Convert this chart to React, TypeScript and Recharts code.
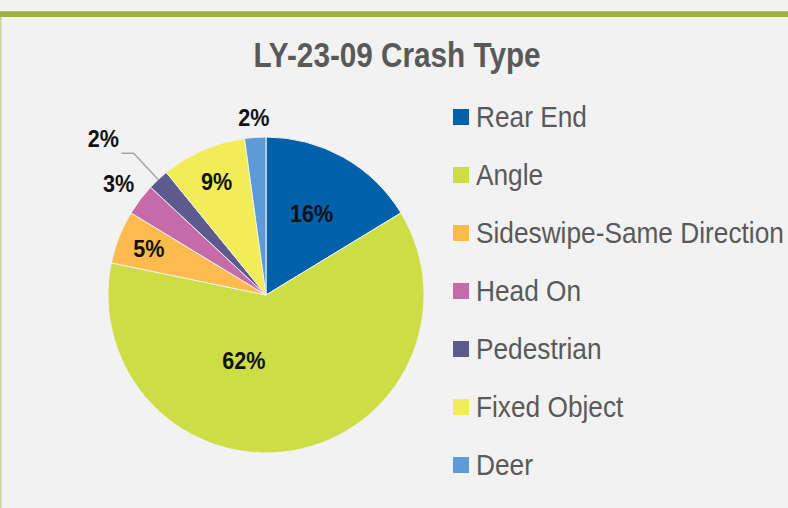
import { Cell, Legend, Pie, PieChart } from "recharts";

const categories = [
    "Rear End",
    "Angle",
    "Sideswipe-Same Direction",
    "Head On",
    "Pedestrian",
    "Fixed Object",
    "Deer",
];
const crashCounts = [15, 57, 5, 3, 2, 8, 2];
const colors = ["#0061AB", "#CDDD45", "#FDBA4E", "#C66AA9", "#5D5B8E", "#F2EC56", "#5E9BD6"];

// label placement per slice: distance from center and angle nudge (deg)
const labelRadius = [93, 69, 126, 185, 226, 124, 178];
const labelShift = [0, -28.5, 0, 0, 3, 0, 0];

const RADIAN = Math.PI / 180;
const FONT = "'Liberation Sans', Arial, sans-serif";

const data = categories.map((name, i) => ({ name, value: crashCounts[i], color: colors[i] }));

function polar(cx: number, cy: number, r: number, angle: number) {
    return { x: cx + r * Math.cos(-angle * RADIAN), y: cy + r * Math.sin(-angle * RADIAN) };
}

function renderLabel(props: any) {
    const { cx, cy, midAngle, outerRadius, percent, index } = props;
    const p = polar(cx, cy, labelRadius[index], midAngle + labelShift[index]);
    let line = null;
    if (index === 4) {
        const a = polar(cx, cy, outerRadius, midAngle);
        const b = polar(cx, cy, outerRadius + 36, midAngle);
        line = (
            <polyline
                points={`${a.x},${a.y} ${b.x},${b.y} ${b.x - 12},${b.y}`}
                fill="none"
                stroke="#A6A6A6"
                strokeWidth={1.5}
            />
        );
    }
    return (
        <g key={`lbl-${index}`}>
            {line}
            <text
                transform={`translate(${p.x} ${p.y}) scale(0.9 1)`}
                textAnchor="middle"
                dominantBaseline="central"
                fontFamily={FONT}
                fontWeight="bold"
                fontSize={24}
                fill="#111111"
            >
                {Math.round(percent * 100)}%
            </text>
        </g>
    );
}

function LegendContent() {
    return (
        <div>
            {data.map((item) => (
                <div
                    key={item.name}
                    style={{ height: 58, display: "flex", alignItems: "center" }}
                >
                    <span
                        style={{
                            width: 16,
                            height: 16,
                            background: item.color,
                            marginRight: 7,
                            flexShrink: 0,
                        }}
                    />
                    <span
                        style={{
                            fontFamily: FONT,
                            fontSize: 30,
                            color: "#595959",
                            whiteSpace: "nowrap",
                            transform: "scaleX(0.875)",
                            transformOrigin: "left center",
                        }}
                    >
                        {item.name}
                    </span>
                </div>
            ))}
        </div>
    );
}

export default function App() {
    return (
        <div style={{ position: "absolute", left: 0, top: 0, width: 788, height: 508, background: "#F2F2F2", overflow: "hidden" }}>
            <svg width={788} height={508} style={{ position: "absolute", left: 0, top: 0 }}>
                <rect x={0} y={11} width={788} height={6} fill="#9DAF3F" />
                <rect x={0} y={11} width={788} height={1} fill="#AFBF62" />
                <rect x={0} y={17} width={1.5} height={491} fill="#C6D39A" />
                <text
                    transform="translate(397 67) scale(0.825 1)"
                    textAnchor="middle"
                    fontFamily={FONT}
                    fontWeight="bold"
                    fontSize={36}
                    fill="#595959"
                >
                    LY-23-09 Crash Type
                </text>
            </svg>
            <div style={{ position: "absolute", left: 0, top: 0 }}>
                <PieChart width={788} height={508} margin={{ top: 0, right: 0, bottom: 0, left: 0 }}>
                    <Pie
                        data={data}
                        dataKey="value"
                        nameKey="name"
                        cx={266}
                        cy={295}
                        outerRadius={158}
                        startAngle={90}
                        endAngle={-270}
                        stroke="#F2F2F2"
                        strokeWidth={1}
                        label={renderLabel}
                        labelLine={false}
                        isAnimationActive={false}
                    >
                        {data.map((item) => (
                            <Cell key={item.name} fill={item.color} />
                        ))}
                    </Pie>
                    <Legend
                        layout="vertical"
                        content={<LegendContent />}
                        wrapperStyle={{ position: "absolute", left: 453, top: 88, width: 335 }}
                    />
                </PieChart>
            </div>
        </div>
    );
}
